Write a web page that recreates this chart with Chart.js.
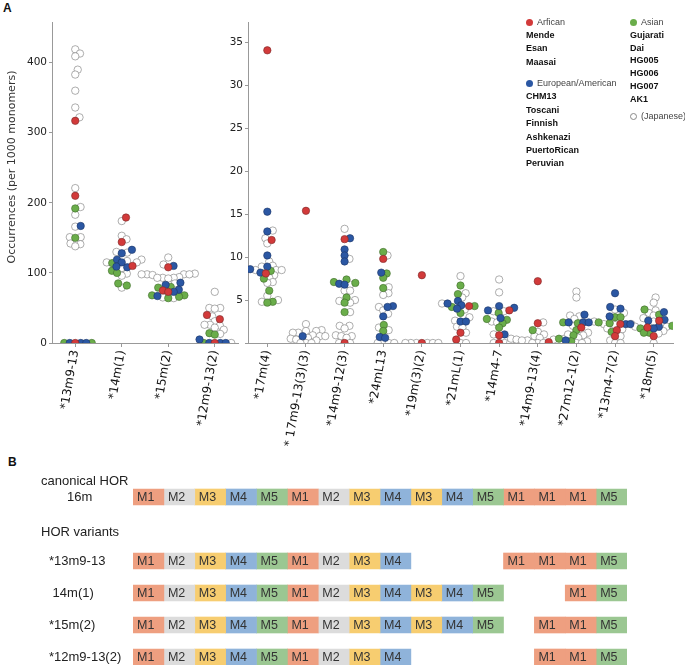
<!DOCTYPE html>
<html>
<head>
<meta charset="utf-8">
<script src="https://cdn.jsdelivr.net/npm/chart.js@4.4.1/dist/chart.umd.min.js"></script>
<style>
  body { margin: 0; width: 685px; height: 665px; position: relative; background: #fff; overflow: hidden; font-family: "Liberation Sans", Arial, sans-serif; }
  .box { position: absolute; }
  .tag { position: absolute; font: bold 12px "Liberation Sans", Arial, sans-serif; color: #111; }
  .leg { position: absolute; font-size: 9px; color: #111; white-space: nowrap; }
  .leg .hd { color: #444; font-weight: normal; }
  .leg b { display: block; }
  .dot { display: inline-block; width: 7px; height: 7px; border-radius: 50%; margin-right: 4px; vertical-align: -0.5px; box-sizing: border-box; }
</style>
</head>
<body>
<div class="tag" style="left:3px;top:1px">A</div>
<div class="tag" style="left:8px;top:455px">B</div>

<div class="box" style="left:0;top:0;width:245px;height:470px"><canvas id="left-chart"></canvas></div>
<div class="box" style="left:200px;top:0;width:485px;height:470px"><canvas id="right-chart"></canvas></div>
<div class="box" style="left:0;top:465px;width:685px;height:200px"><canvas id="hor-chart"></canvas></div>

<div class="leg" style="left:526px;top:16px;line-height:13.2px">
  <div class="hd"><span class="dot" style="background:#d23a3a"></span>Arfican</div>
  <b>Mende</b><b>Esan</b><b>Maasai</b>
</div>
<div class="leg" style="left:526px;top:77px;line-height:13.4px">
  <div class="hd"><span class="dot" style="background:#2b57a3"></span>European/American</div>
  <b>CHM13</b><b>Toscani</b><b>Finnish</b><b>Ashkenazi</b><b>PuertoRican</b><b>Peruvian</b>
</div>
<div class="leg" style="left:630px;top:16px;line-height:12.8px">
  <div class="hd"><span class="dot" style="background:#6aad4a"></span>Asian</div>
  <b>Gujarati</b><b>Dai</b><b>HG005</b><b>HG006</b><b>HG007</b><b>AK1</b>
</div>
<div class="leg" style="left:630px;top:110px;line-height:13px">
  <div class="hd"><span class="dot" style="border:1px solid #888;background:#fff"></span>(Japanese)</div>
</div>

<script>
// --- categories ---
const leftCats = ['*13m9-13', '*14m(1)', '*15m(2)', '*12m9-13(2)'];
const rightCats = ['*17m(4)', '* 17m9-13(3)(3)', '*14m9-12(3)', '*24mL13', '*19m(3)(2)', '*21mL(1)',
  '*14m4-7', '*14m9-13(4)', '*27m12-1(2)', '*13m4-7(2)', '*18m(5)'];

// --- occurrences per 1000 monomers, one list per category ---
const africanLeft = [[317, 210, 0], [179, 144, 110], [108, 75, 73], [40, 34, 0]];
const europeanLeft = [[167, 0, 0, 0], [133, 128, 119, 115, 109, 108], [110, 86, 83, 76, 73, 67], [5, 0, 0, 0]];
const asianLeft = [[192, 150, 0, 0], [114, 103, 100, 85, 82], [80, 79, 68, 68, 66, 64], [14, 12, 0]];
const japaneseLeft = [
  [419, 413, 409, 390, 383, 360, 336, 322, 221, 194, 183, 166, 151, 151, 142, 141, 138],
  [174, 153, 148, 130, 129, 119, 117, 115, 115, 107, 99, 96, 79],
  [122, 112, 99, 98, 98, 98, 98, 97, 94, 93, 93, 93, 92, 85, 65, 64],
  [73, 50, 50, 49, 38, 31, 26, 26, 25, 22, 19, 13, 0]
];

const africanRight = [[34.1, 12.0, 8.1], [15.4], [12.1, 0], [9.8], [7.9, 0], [4.3, 1.2, 0.4],
  [3.8, 0.9, 0], [7.2, 2.3, 0.1], [1.8], [2.2, 1.5, 0.8], [2.6, 1.8, 0.8]];
const europeanRight = [[15.3, 13.0, 10.2, 8.9, 8.6, 8.2], [0.8], [12.2, 10.9, 10.2, 9.5, 6.9, 6.8],
  [8.2, 4.3, 4.2, 3.1, 0.7, 0.6], [], [4.9, 4.6, 4.4, 4.0, 2.5, 2.5], [4.3, 4.1, 3.8, 2.9, 1.0], [],
  [3.3, 2.4, 2.4, 2.4, 0.3], [5.8, 4.2, 4.0, 3.1, 2.2], [3.6, 2.7, 2.6, 2.2, 1.9, 1.7]];
const asianRight = [[8.4, 7.5, 6.1, 4.8, 4.7], [], [7.4, 7.1, 7.0, 5.3, 4.7, 3.6], [10.6, 8.1, 7.6, 6.4, 2.1, 1.4],
  [], [6.7, 5.7, 4.3, 4.2, 3.5], [3.5, 2.8, 2.7, 2.3, 1.8], [1.5, 0.5], [2.4, 2.3, 1.5, 0.9, 0.2],
  [3.0, 3.0, 2.4, 2.3, 1.3], [3.9, 3.3, 2.0, 1.7, 1.2, 1.2]];
const japaneseRight = [
  [13.1, 12.2, 11.6, 9.5, 9.0, 8.9, 8.5, 8.5, 8.5, 7.9, 7.6, 7.1, 7.0, 5.5, 5.0, 4.8],
  [2.2, 1.5, 1.4, 1.4, 1.2, 1.2, 0.9, 0.8, 0.8, 0.6, 0.5, 0.4, 0.3, 0, 0, 0],
  [13.3, 9.8, 6.8, 6.1, 6.1, 5.0, 4.9, 4.7, 3.6, 2.0, 2.0, 1.7, 0.9, 0.8, 0.8, 0.6, 0, 0],
  [10.2, 6.5, 5.8, 5.6, 4.2, 3.8, 3.4, 1.8, 1.5, 0, 0, 0, 0],
  [0, 0, 0, 0, 0, 0],
  [7.8, 5.8, 5.3, 4.6, 3.9, 3.0, 2.6, 1.9, 1.8, 1.2, 0, 0],
  [7.4, 5.9, 3.7, 3.7, 2.5, 2.4, 1.0, 0, 0, 0],
  [2.4, 1.3, 1.0, 0.8, 0.6, 0.5, 0.5, 0.4, 0.4, 0.3, 0.3, 0, 0, 0],
  [6.0, 5.3, 3.2, 3.1, 2.8, 2.5, 2.0, 1.2, 1.0, 0.9, 0.6, 0.2, 0, 0],
  [3.9, 3.5, 2.2, 2.2, 2.1, 1.7, 1.6, 0.8, 0.3, 0, 0],
  [5.3, 4.7, 3.8, 3.5, 3.2, 2.9, 2.5, 2.2, 1.9, 1.9, 1.4, 1.1, 0]
];

// --- HOR structures (panel B) ---
const horRowLabels = ['16m', '*13m9-13', ' 14m(1)', '*15m(2)', '*12m9-13(2)'];
const horRowPos = [0, 2, 3, 4, 5];
const horCanonical = ['M1','M2','M3','M4','M5','M1','M2','M3','M4','M3','M4','M5','M1','M1','M1','M5'];
const hor13m9 = ['M1','M2','M3','M4','M5','M1','M2','M3','M4','','','','M1','M1','M1','M5'];
const hor14m1 = ['M1','M2','M3','M4','M5','M1','M2','M3','M4','M3','M4','M5','','','M1','M5'];
const hor15m2 = ['M1','M2','M3','M4','M5','M1','M2','M3','M4','M3','M4','M5','','M1','M1','M5'];
const hor12m9 = ['M1','M2','M3','M4','M5','M1','M2','M3','M4','','','','','M1','M1','M5'];

const RED = '#d23a3a', BLUE = '#2b57a3', GREEN = '#6aad4a';
const moduleColors = { M1: '#ee9f80', M2: '#dcdcdc', M3: '#f7cd70', M4: '#8fb3da', M5: '#9bc792' };
const tickFont = { family: 'DejaVu Sans', size: 10.5 };

function pointsFor(lists) {
  const pts = [];
  lists.forEach((vals, i) => vals.forEach(v => pts.push({ x: i, y: v, cat: i })));
  return pts;
}

function swarmDataset(label, lists, fill, edge) {
  return {
    label: label,
    data: pointsFor(lists),
    backgroundColor: fill,
    borderColor: edge,
    borderWidth: 0.6,
    pointRadius: 3.7,
    clip: 0
  };
}

// beeswarm: push each point sideways until it no longer overlaps the ones already placed
function applySwarm(chart, cats) {
  const xs = chart.scales.x, ys = chart.scales.y;
  const unit = xs.getPixelForValue(1) - xs.getPixelForValue(0);
  const d = 5.5;
  cats.forEach((c, i) => {
    const items = [];
    chart.data.datasets.forEach(ds => ds.data.forEach(p => { if (p.cat === i) items.push(p); }));
    items.sort((a, b) => a.y - b.y);
    const placed = [];
    items.forEach(p => {
      const py = ys.getPixelForValue(p.y);
      const cands = [0];
      placed.forEach(q => {
        const dy = py - q.py;
        if (Math.abs(dy) < d) {
          const dx = Math.sqrt(d * d - dy * dy);
          cands.push(q.dx + dx, q.dx - dx);
        }
      });
      cands.sort((a, b) => Math.abs(a) - Math.abs(b));
      const dx = cands.find(cx => placed.every(q => (cx - q.dx) ** 2 + (py - q.py) ** 2 >= d * d - 0.01));
      placed.push({ dx: dx, py: py });
      p.x = i + dx / unit;
    });
  });
  chart.update('none');
}

function swarmChart(id, cats, lists, yMax, step, axisWidth, padRight, extraPlugins) {
  const chart = new Chart(document.getElementById(id).getContext('2d'), {
    type: 'scatter',
    data: {
      datasets: [
        swarmDataset('African', lists[0], RED, '#7a2a2a'),
        swarmDataset('European/American', lists[1], BLUE, '#1d3566'),
        swarmDataset('Asian', lists[2], GREEN, '#3f6b2c'),
        swarmDataset('Japanese', lists[3], '#ffffff', '#777777')
      ]
    },
    options: {
      responsive: true,
      maintainAspectRatio: false,
      animation: false,
      layout: { padding: { top: 22, right: padRight, left: 0, bottom: 0 } },
      plugins: { legend: { display: false }, tooltip: { enabled: false } },
      scales: {
        x: {
          type: 'linear',
          min: -0.5,
          max: cats.length - 0.5,
          afterBuildTicks: s => { s.ticks = cats.map((c, i) => ({ value: i })); },
          afterFit: s => { s.height = 127; },
          grid: { display: true, drawOnChartArea: false, drawTicks: true, tickLength: 4, color: '#999' },
          border: { display: true, color: '#999', width: 1 },
          ticks: {
            autoSkip: false,
            minRotation: 80,
            maxRotation: 80,
            padding: 2,
            color: '#111',
            font: { family: 'DejaVu Sans', size: 12 },
            callback: v => cats[v]
          }
        },
        y: {
          min: 0,
          max: yMax,
          afterFit: s => { s.width = axisWidth; },
          grid: { display: true, drawOnChartArea: false, drawTicks: true, tickLength: 3, color: '#999' },
          border: { display: true, color: '#999', width: 1 },
          ticks: {
            stepSize: step,
            includeBounds: false,
            padding: 2,
            color: '#222',
            font: tickFont,
            callback: v => (v === 0 && id === 'right-chart') ? '' : v
          }
        }
      }
    },
    plugins: extraPlugins
  });
  applySwarm(chart, cats);
  return chart;
}

const yTitlePlugin = {
  id: 'yTitle',
  afterDraw(chart) {
    const ctx = chart.ctx;
    ctx.save();
    ctx.translate(12, 167);
    ctx.rotate(-Math.PI / 2);
    ctx.font = '11px "DejaVu Sans"';
    ctx.fillStyle = '#333';
    ctx.textAlign = 'center';
    ctx.textBaseline = 'middle';
    ctx.fillText('Occurrences (per 1000 monomers)', 0, 0);
    ctx.restore();
  }
};

swarmChart('left-chart', leftCats, [africanLeft, europeanLeft, asianLeft, japaneseLeft], 458, 100, 52, 7, [yTitlePlugin]);
swarmChart('right-chart', rightCats, [africanRight, europeanRight, asianRight, japaneseRight], 37.4, 5, 48, 12, []);

// --- panel B: HOR structure diagram as floating horizontal bars ---
const horModules = [horCanonical, hor13m9, hor14m1, hor15m2, hor12m9];
const horDatasets = horCanonical.map((m, s) => ({
  data: horModules.map((row, k) => ({ y: horRowPos[k], x: row[s] ? [s, s + 1] : null })),
  backgroundColor: ctx => moduleColors[horModules[ctx.dataIndex][s]] || 'transparent',
  borderWidth: 0,
  barThickness: 16,
  grouped: false
}));

const horTextPlugin = {
  id: 'horText',
  afterDatasetsDraw(chart) {
    const ctx = chart.ctx;
    const ys = chart.scales.y;
    ctx.save();
    ctx.font = '12.5px "Liberation Sans", Arial, sans-serif';
    ctx.fillStyle = '#333';
    ctx.textBaseline = 'middle';
    ctx.textAlign = 'left';
    chart.data.datasets.forEach((ds, s) => {
      chart.getDatasetMeta(s).data.forEach((bar, k) => {
        const m = horModules[k][s];
        if (!m) return;
        ctx.fillText(m, Math.min(bar.x, bar.base) + 4, bar.y + 0.5);
      });
    });
    ctx.font = '13px "Liberation Sans", Arial, sans-serif';
    ctx.fillStyle = '#222';
    const y0 = ys.getPixelForValue(0);
    ctx.fillText('canonical HOR', 41, y0 - 16);
    ctx.fillText(horRowLabels[0], 67, y0);
    ctx.fillText('HOR variants', 41, ys.getPixelForValue(1.1));
    for (let k = 1; k < horRowLabels.length; k++) {
      ctx.fillText(horRowLabels[k], 49, ys.getPixelForValue(horRowPos[k]));
    }
    ctx.restore();
  }
};

new Chart(document.getElementById('hor-chart').getContext('2d'), {
  type: 'bar',
  data: { datasets: horDatasets },
  options: {
    indexAxis: 'y',
    responsive: true,
    maintainAspectRatio: false,
    animation: false,
    layout: { padding: { left: 133, right: 58, top: 0, bottom: 0 } },
    plugins: { legend: { display: false }, tooltip: { enabled: false } },
    scales: {
      x: { type: 'linear', min: 0, max: 16, display: false, offset: false },
      y: { type: 'linear', min: -1, max: 5.25, reverse: true, display: false, offset: false }
    }
  },
  plugins: [horTextPlugin]
});
</script>
</body>
</html>
